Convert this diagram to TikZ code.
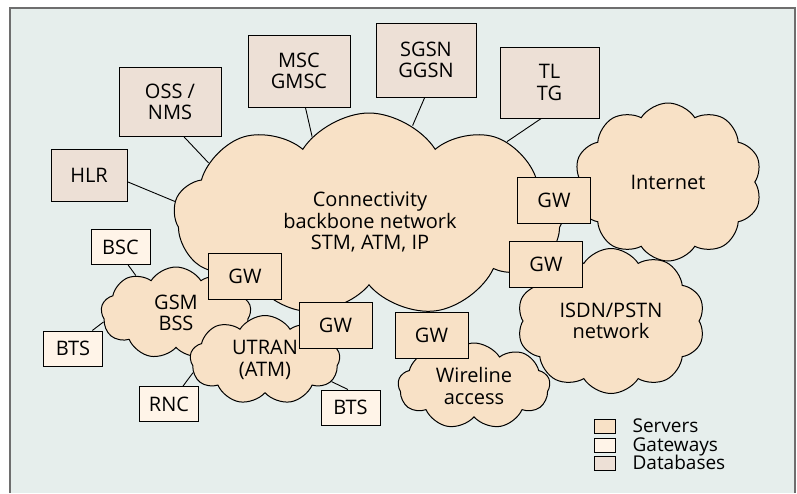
\documentclass[tikz,border=0pt]{standalone}
\usepackage{fontspec}
\setmainfont{Open Sans}
\usetikzlibrary{shapes.symbols,positioning}
\definecolor{bgcol}{HTML}{E6EEEC}
\definecolor{srvcol}{HTML}{F8E1C6}
\definecolor{gwcol}{HTML}{FFF4E8}
\definecolor{dbcol}{HTML}{EDE0D6}
\definecolor{framecol}{HTML}{6E6E6E}

\begin{document}
\begin{tikzpicture}[x=1pt,y=-1pt,
    every node/.style={font=\fontsize{20}{21.5}\selectfont, align=center},
    netcloud/.style={cloud, cloud puffs=10, cloud puff arc=115, cloud ignores aspect,
        draw, fill=srvcol, line width=1pt, inner sep=0pt},
    dbbox/.style={draw, fill=dbcol, line width=1pt, inner sep=0pt},
    gwbox/.style={draw, fill=srvcol, line width=1pt, inner sep=0pt,
        minimum width=73pt, minimum height=46pt},
    elbox/.style={draw, fill=gwcol, line width=1pt, inner sep=0pt,
        minimum width=59pt, minimum height=35pt},
    legbox/.style={draw, line width=0.8pt, minimum width=21pt, minimum height=14pt, inner sep=0pt},
    legtxt/.style={anchor=west, inner sep=0pt, text height=13.5pt, text depth=0pt,
        font=\fontsize{19}{20}\selectfont},
    link/.style={line width=0.9pt}]
    \useasboundingbox (0,0) rectangle (797,493);
    \fill[bgcol] (10,8) rectangle (795,493);
    \draw[framecol, line width=1.5pt] (10,493) -- (10,8) -- (795,8) -- (795,493);

    % clouds
    \node[netcloud, cloud puffs=9, minimum width=390pt, minimum height=204pt] (backbone) at (369,215) {};
    \node (bbtext) at (370,222) {Connectivity\\backbone network\\STM, ATM, IP};
    \node[netcloud, minimum width=188pt, minimum height=158pt] (internet) at (668,182) {Internet};
    \node[netcloud, minimum width=188pt, minimum height=145pt] (isdn) at (611,321) {ISDN/PSTN\\network};
    \node[netcloud, cloud puffs=9, minimum width=152pt, minimum height=86pt] (wireline) at (474,386) {Wireline\\access};
    \node[netcloud, cloud puffs=9, minimum width=150pt, minimum height=92pt] (gsm) at (176,313) {GSM\\BSS};
    \node[netcloud, cloud puffs=9, minimum width=150pt, minimum height=89pt] (utran) at (265,360) {UTRAN\\(ATM)};

    % gateways
    \node[gwbox] (gwinet) at (554,200) {GW};
    \node[gwbox] (gwisdn) at (546,264) {GW};
    \node[gwbox] (gwwire) at (431.5,335) {GW};
    \node[gwbox] (gwgsm) at (245,276) {GW};
    \node[gwbox] (gwutran) at (335.5,325) {GW};

    % databases
    \node[dbbox, minimum width=102pt, minimum height=69pt] (oss) at (170,102) {OSS /\\NMS};
    \node[dbbox, minimum width=102pt, minimum height=72pt] (msc) at (299,71) {MSC\\GMSC};
    \node[dbbox, minimum width=100pt, minimum height=74pt] (sgsn) at (426,60) {SGSN\\GGSN};
    \node[dbbox, minimum width=99pt, minimum height=71pt] (tl) at (549.5,82.5) {TL\\TG};
    \node[dbbox, minimum width=76pt, minimum height=52pt] (hlr) at (89,175) {HLR};

    % access elements
    \node[elbox] (bsc) at (120.5,247) {BSC};
    \node[elbox] (btsa) at (73,348.5) {BTS};
    \node[elbox] (rnc) at (169,404) {RNC};
    \node[elbox] (btsb) at (350.5,407.5) {BTS};

    % links
    \draw[link] (hlr.-10) -- (backbone.176);
    \draw[link] (oss.-68) -- (backbone.162);
    \draw[link] (msc.-80) -- (backbone.126);
    \draw[link] (sgsn.-92) -- (backbone.64);
    \draw[link] (tl.-103) -- (backbone.28);
    \draw[link] (bsc.-67) -- (gsm.137);
    \draw[link] (btsa.43) -- (gsm.187);
    \draw[link] (rnc.52) -- (utran.190);
    \draw[link] (btsb.98) -- (utran.-18);

    % legend
    \node[legbox, fill=srvcol] (legsrv) at (604.5,426) {};
    \node[legbox, fill=gwcol] (leggw) at (604.5,445) {};
    \node[legbox, fill=dbcol] (legdb) at (604.5,463) {};
    \node[legtxt, right=17pt of legsrv] {Servers};
    \node[legtxt, right=17pt of leggw] {Gateways};
    \node[legtxt, right=17pt of legdb] {Databases};
\end{tikzpicture}
\end{document}
